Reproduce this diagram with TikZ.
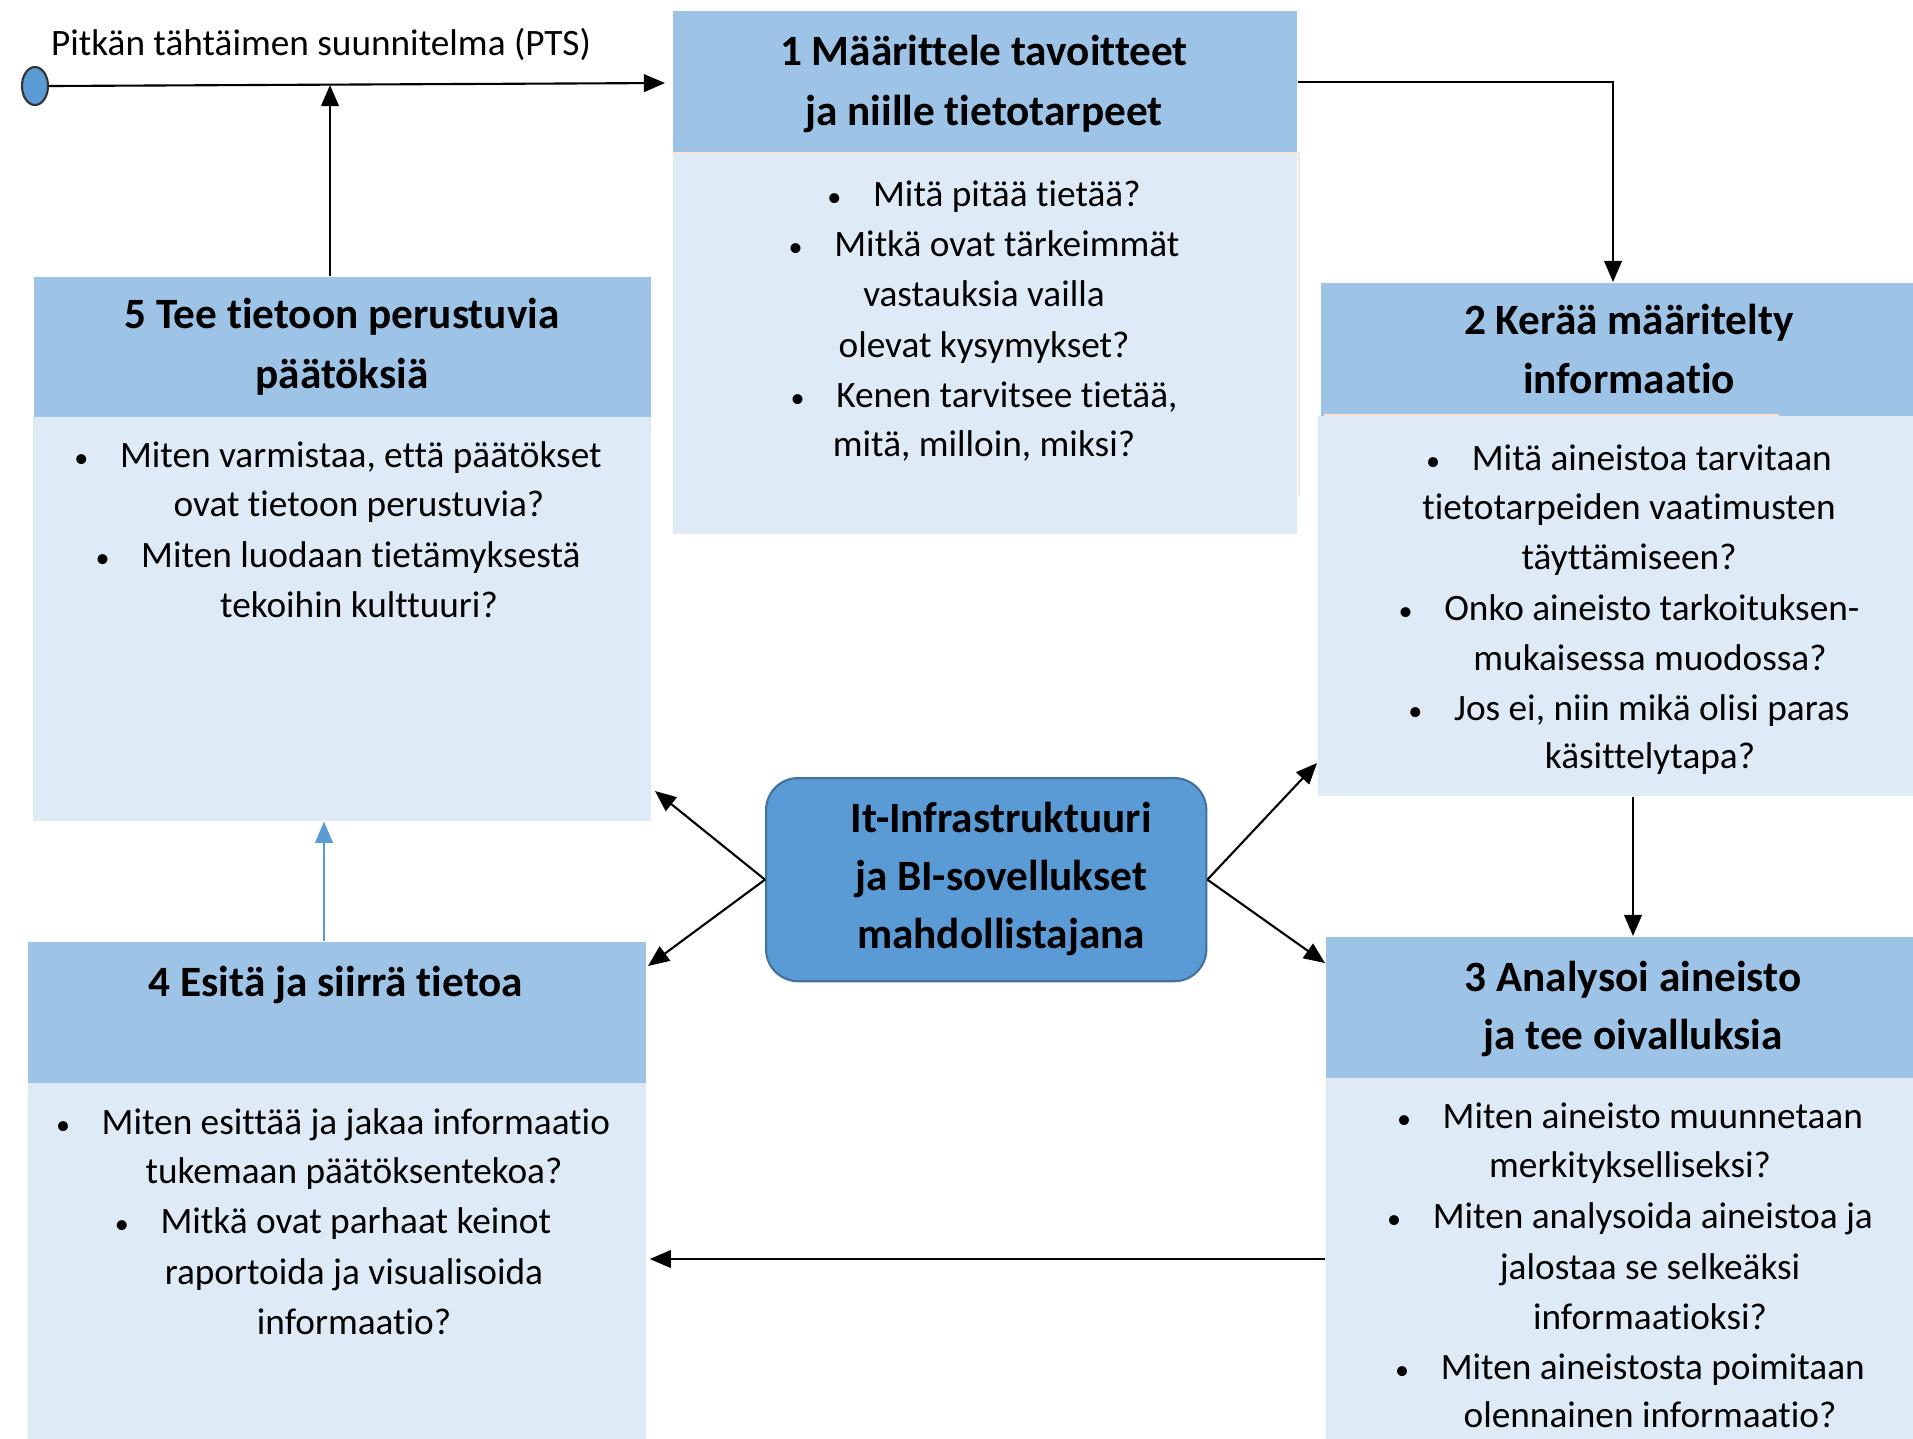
\documentclass[tikz,border=0pt]{standalone}
\usepackage{fontspec}
\setmainfont{Carlito}[Ligatures=NoCommon]
\usetikzlibrary{arrows.meta,shapes.geometric}
\definecolor{hdr}{HTML}{9DC3E6}
\definecolor{bdy}{HTML}{DEEBF7}
\definecolor{ctrfill}{HTML}{5B9BD5}
\definecolor{ctrline}{HTML}{41719C}
\definecolor{peach}{HTML}{FBE2D2}
\newcommand{\blt}{{\fontsize{8}{8}\selectfont •}\hspace{9pt}}
\begin{document}
\begin{tikzpicture}[x=0.01cm,y=-0.01cm,
  hdrbox/.style={fill=hdr,draw=none,anchor=north west,inner sep=0pt},
  bdybox/.style={fill=bdy,draw=none,anchor=north west,inner sep=0pt},
  bodytxt/.style={font=\fontsize{10.6}{13}\selectfont,inner sep=0pt,anchor=base},
  titletxt/.style={font=\fontsize{12.3}{15}\selectfont\bfseries,inner sep=0pt,anchor=base},
  conn/.style={draw=black,line width=0.6pt,-{Triangle[length=6pt,width=5pt]}},
  bconn/.style={draw=ctrfill,line width=0.6pt,-{Triangle[length=6pt,width=5pt]}},
  edgeline/.style={draw=peach,line width=0.6pt}]
\useasboundingbox[fill=white] (0,0) rectangle (1913,1438);

% boxes
\node[hdrbox,minimum width=6.24cm,minimum height=1.43cm] (h1) at (672,10) {};
\node[bdybox,minimum width=6.24cm,minimum height=3.80cm] (b1) at (672,153) {};
\node[hdrbox,minimum width=5.93cm,minimum height=1.33cm] (h2) at (1320,282) {};
\node[bdybox,minimum width=5.96cm,minimum height=3.80cm] (b2) at (1317,415) {};
\node[hdrbox,minimum width=5.88cm,minimum height=1.41cm] (h3) at (1325,936) {};
\node[bdybox,minimum width=5.88cm,minimum height=3.61cm] (b3) at (1325,1077) {};
\node[hdrbox,minimum width=6.18cm,minimum height=1.41cm] (h4) at (27,941) {};
\node[bdybox,minimum width=6.18cm,minimum height=3.56cm] (b4) at (27,1082) {};
\node[hdrbox,minimum width=6.17cm,minimum height=1.40cm] (h5) at (33,276) {};
\node[bdybox,minimum width=6.18cm,minimum height=4.04cm] (b5) at (32,416) {};

% faint edges
\draw[edgeline] (b1.north west) -- (1299,153) -- (1299,496);
\draw[edgeline] (1324,415) -- (1779,415);

% centre node
\node[fill=ctrfill,draw=ctrline,line width=0.6pt,rounded corners=0.32cm,
      anchor=north west,minimum width=4.40cm,minimum height=2.03cm,inner sep=0pt] (ctr) at (765,777) {};
\node[titletxt] (c1) at (1001,832) {It-Infrastruktuuri};
\node[titletxt] (c2) at (1001,890) {ja BI-sovellukset};
\node[titletxt] (c3) at (1001,948) {mahdollistajana};

% PTS line
\node[ellipse,fill=ctrfill,draw=black!80,line width=0.6pt,minimum width=0.26cm,minimum height=0.38cm,inner sep=0pt] (pts) at (35,86) {};
\node[bodytxt] (ptslabel) at (321,55) {Pitkän tähtäimen suunnitelma (PTS)};
\coordinate (ptsend) at (665,83);
\draw[conn] (pts.east) -- (ptsend);
\coordinate (k5) at (330,85);
\draw[conn] (h5.north -| k5) -- (k5);

% connectors
\coordinate (k12) at (1613,0);
\draw[conn] (h1.east) -| (h2.north -| k12);
\coordinate (k23) at (1633,0);
\draw[conn] (b2.south -| k23) -- (h3.north -| k23);
\coordinate (k34) at (0,1259);
\draw[conn] (b3.west |- k34) -- ([xshift=0.03cm]b4.east |- k34);
\coordinate (k45) at (324,0);
\draw[bconn] (h4.north -| k45) -- (b5.south -| k45);
\coordinate (a5) at (655,791);
\coordinate (a4) at (648,966);
\coordinate (a2) at (1317,763);
\coordinate (a3) at (1325,963);
\draw[conn] (ctr.west) -- (a5);
\draw[conn] (ctr.west) -- (a4);
\draw[conn] (ctr.east) -- (a2);
\draw[conn] (ctr.east) -- (a3);

% box 1 text
\node[titletxt] (t1a) at (984,65) {1 Määrittele tavoitteet};
\node[titletxt] (t1b) at (984,125) {ja niille tietotarpeet};
\node[bodytxt] (l1a) at (984,206) {\blt Mitä pitää tietää?};
\node[bodytxt] (l1b) at (984,256) {\blt Mitkä ovat tärkeimmät};
\node[bodytxt] (l1c) at (984,306) {vastauksia vailla};
\node[bodytxt] (l1d) at (984,357) {olevat kysymykset?};
\node[bodytxt] (l1e) at (984,407) {\blt Kenen tarvitsee tietää,};
\node[bodytxt] (l1f) at (984,456) {mitä, milloin, miksi?};

% box 2 text
\node[titletxt] (t2a) at (1629,334) {2 Kerää määritelty};
\node[titletxt] (t2b) at (1629,393) {informaatio};
\node[bodytxt] (l2a) at (1629,470) {\blt Mitä aineistoa tarvitaan};
\node[bodytxt] (l2b) at (1629,519) {tietotarpeiden vaatimusten};
\node[bodytxt] (l2c) at (1629,569) {täyttämiseen?};
\node[bodytxt] (l2d) at (1629,620) {\blt Onko aineisto tarkoituksen-};
\node[bodytxt] (l2e) at (1650,670) {mukaisessa muodossa?};
\node[bodytxt] (l2f) at (1629,720) {\blt Jos ei, niin mikä olisi paras};
\node[bodytxt] (l2g) at (1650,768) {käsittelytapa?};

% box 3 text
\node[titletxt] (t3a) at (1633,991) {3 Analysoi aineisto};
\node[titletxt] (t3b) at (1633,1049) {ja tee oivalluksia};
\node[bodytxt] (l3a) at (1630,1128) {\blt Miten aineisto muunnetaan};
\node[bodytxt] (l3b) at (1630,1177) {merkitykselliseksi?};
\node[bodytxt] (l3c) at (1630,1228) {\blt Miten analysoida aineistoa ja};
\node[bodytxt] (l3d) at (1650,1279) {jalostaa se selkeäksi};
\node[bodytxt] (l3e) at (1650,1329) {informaatioksi?};
\node[bodytxt] (l3f) at (1630,1379) {\blt Miten aineistosta poimitaan};
\node[bodytxt] (l3g) at (1650,1427) {olennainen informaatio?};

% box 4 text
\node[titletxt] (t4a) at (336,996) {4 Esitä ja siirrä tietoa};
\node[bodytxt] (l4a) at (333,1134) {\blt Miten esittää ja jakaa informaatio};
\node[bodytxt] (l4b) at (354,1183) {tukemaan päätöksentekoa?};
\node[bodytxt] (l4c) at (333,1233) {\blt Mitkä ovat parhaat keinot};
\node[bodytxt] (l4d) at (354,1284) {raportoida ja visualisoida};
\node[bodytxt] (l4e) at (354,1334) {informaatio?};

% box 5 text
\node[titletxt] (t5a) at (342,328) {5 Tee tietoon perustuvia};
\node[titletxt] (t5b) at (342,388) {päätöksiä};
\node[bodytxt] (l5a) at (338,467) {\blt Miten varmistaa, että päätökset};
\node[bodytxt] (l5b) at (359,516) {ovat tietoon perustuvia?};
\node[bodytxt] (l5c) at (338,567) {\blt Miten luodaan tietämyksestä};
\node[bodytxt] (l5d) at (359,617) {tekoihin kulttuuri?};
\end{tikzpicture}
\end{document}
